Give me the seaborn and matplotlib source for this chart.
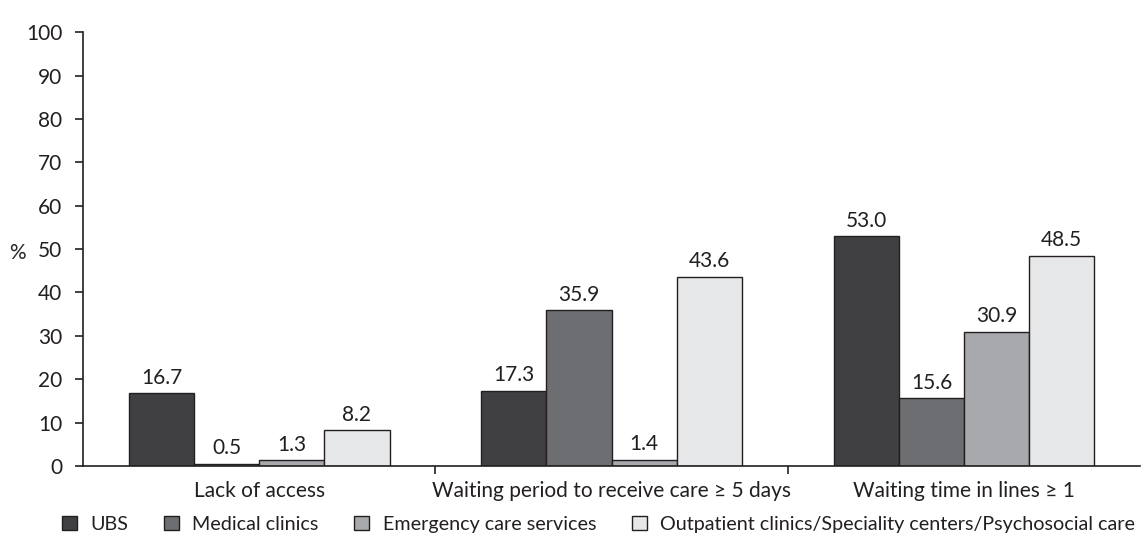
import numpy as np
import pandas as pd
import matplotlib.pyplot as plt
import seaborn as sns
from matplotlib.patches import Patch

# ---- data ----
categories = [
    "Lack of access",
    "Waiting period to receive care \u2265 5 days",
    "Waiting time in lines \u2265 1",
]
services = [
    "UBS",
    "Medical clinics",
    "Emergency care services",
    "Outpatient clinics/Speciality centers/Psychosocial care",
]
ubs = [16.7, 17.3, 53.0]
medical_clinics = [0.5, 35.9, 15.6]
emergency = [1.3, 1.4, 30.9]
outpatient = [8.2, 43.6, 48.5]

colors = ["#404042", "#6d6e71", "#a7a9ac", "#e6e7e8"]

df = pd.DataFrame({
    "category": categories * 4,
    "service": np.repeat(services, len(categories)),
    "pct": ubs + medical_clinics + emergency + outpatient,
})

sns.set_style("white")
plt.rcParams["font.family"] = ["Lato", "DejaVu Sans"]
plt.rcParams["text.color"] = "#231f20"
fs = 15

fig = plt.figure(figsize=(11.43, 5.38), dpi=100)
ax = fig.add_axes([0.0726, 0.134, 0.925, 0.806])

sns.barplot(
    data=df, x="category", y="pct", hue="service",
    order=categories, hue_order=services, palette=colors,
    width=0.74, edgecolor="#231f20", linewidth=1.0,
    saturation=1, legend=False, ax=ax,
)

for cont in ax.containers:
    ax.bar_label(cont, fmt="%.1f", padding=4, fontsize=fs, color="#231f20")

ax.set_ylim(0, 100)
ax.set_xlim(-0.5, 2.5)
ax.set_yticks(range(0, 101, 10))
ax.tick_params(axis="y", direction="out", length=6, width=1.2,
               colors="#231f20", labelsize=fs, pad=9, left=True)
ax.tick_params(axis="x", which="major", length=0, labelsize=fs, pad=11,
               colors="#231f20")
ax.set_xticks([0.5, 1.5], minor=True)
ax.tick_params(axis="x", which="minor", direction="out", length=6,
               width=1.2, color="#231f20", bottom=True)

for s in ["top", "right"]:
    ax.spines[s].set_visible(False)
for s in ["left", "bottom"]:
    ax.spines[s].set_color("#231f20")
    ax.spines[s].set_linewidth(1.2)

ax.set_xlabel("")
ax.set_ylabel("%", rotation=0, fontsize=fs, va="center", ha="center")
ax.yaxis.set_label_coords(-0.062, 0.49)

handles = [Patch(facecolor=c, edgecolor="#231f20", linewidth=1.0)
           for c in colors]
fig.legend(handles, services, loc="lower left", bbox_to_anchor=(0.054, 0.01),
           ncol=4, frameon=False, fontsize=14.2, handlelength=0.75,
           handleheight=0.75, handletextpad=0.7, columnspacing=1.8,
           borderpad=0, borderaxespad=0)

fig.savefig("out.png", dpi=100)
